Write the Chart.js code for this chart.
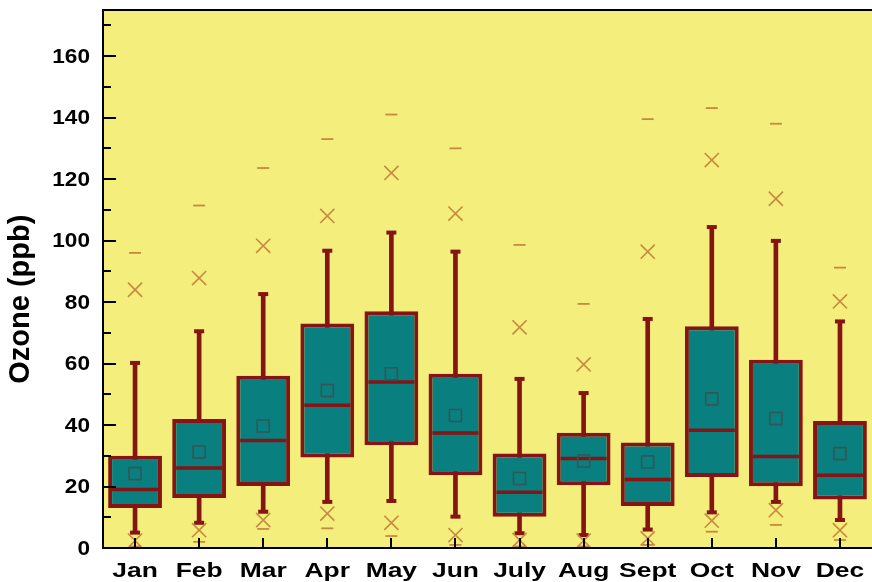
<!DOCTYPE html>
<html>
<head>
<meta charset="utf-8">
<title>Monthly ozone distribution</title>
<script src="https://cdn.jsdelivr.net/npm/chart.js@4.4.1/dist/chart.umd.min.js"></script>
<style>
  html, body { margin: 0; padding: 0; background: #ffffff; overflow: hidden; }
  #wrap { width: 872px; height: 582px; }
</style>
</head>
<body>
<div id="wrap"><canvas id="chart" width="872" height="582"></canvas></div>
<script>
// Monthly ozone statistics (ppb)
const months      = ['Jan', 'Feb', 'Mar', 'Apr', 'May', 'Jun', 'July', 'Aug', 'Sept', 'Oct', 'Nov', 'Dec'];
const minVals     = [0.5, 2.0, 6.2, 6.4, 3.9, 1.0, 0.5, 0.5, 1.0, 5.3, 7.5, 2.6];
const p1Vals      = [2.4, 5.8, 9.1, 11.2, 8.2, 4.2, 2.6, 2.4, 3.1, 8.9, 12.3, 5.8];
const whiskerLow  = [5.0, 8.2, 11.8, 15.0, 15.3, 10.2, 4.8, 4.2, 6.0, 11.6, 15.0, 9.1];
const q1Vals      = [13.0, 16.3, 20.2, 29.4, 33.4, 23.7, 10.2, 20.4, 13.7, 23.1, 20.1, 15.8];
const medianVals  = [19.0, 26.0, 35.0, 46.4, 54.0, 37.4, 18.1, 29.1, 22.3, 38.3, 29.8, 23.7];
const meanVals    = [24.2, 31.2, 39.7, 51.2, 56.7, 43.1, 22.6, 28.3, 28.0, 48.5, 42.1, 30.7];
const q3Vals      = [30.0, 42.0, 56.0, 73.0, 77.0, 56.7, 30.7, 37.5, 34.3, 72.1, 61.2, 41.3];
const whiskerHigh = [60.2, 70.5, 82.6, 96.7, 102.6, 96.4, 55.0, 50.4, 74.5, 104.4, 99.9, 73.7];
const p99Vals     = [84.0, 87.8, 98.3, 108.0, 122.0, 108.8, 71.8, 59.7, 96.4, 126.2, 113.6, 80.2];
const maxVals     = [96.0, 111.4, 123.6, 133.0, 141.0, 130.0, 98.6, 79.4, 139.5, 143.1, 138.0, 91.2];
const yTickLabels = [0, 20, 40, 60, 80, 100, 120, 140, 160];

const PLOT_BG   = '#F4EE7C';
const BOX_FILL  = '#0A7F7F';
const BOX_EDGE  = '#861414';
const MARK_TAN  = '#C7893E';
const MEAN_EDGE = '#365656';
const FONT_FAMILY = '"Liberation Sans", Arial, Helvetica, sans-serif';

// Scatter-style marker row on the category axis
function markRow(data, style, radius, width, color, order) {
  return {
    type: 'line',
    data: data,
    showLine: false,
    pointStyle: style,
    pointRadius: radius,
    pointHoverRadius: radius,
    pointBorderWidth: width,
    pointHoverBorderWidth: width,
    pointBorderColor: color,
    pointBackgroundColor: 'rgba(0,0,0,0)',
    clip: false,
    order: order
  };
}

// Drop the extra edge padding Chart.js reserves for tick labels
function fixedSize(prop, value) {
  return scale => {
    scale[prop] = value;
    scale.paddingTop = 0;
    scale.paddingBottom = 0;
    scale.paddingLeft = 0;
    scale.paddingRight = 0;
  };
}

// Plot background, frame top edge, inward tick marks and wide bold tick labels
const framePlugin = {
  id: 'frame',
  beforeDraw(chart) {
    const { ctx, chartArea: a } = chart;
    ctx.save();
    ctx.fillStyle = PLOT_BG;
    ctx.fillRect(a.left, a.top, a.right - a.left, a.bottom - a.top);
    ctx.restore();
  },
  afterDraw(chart) {
    const { ctx, chartArea: a, scales } = chart;
    ctx.save();
    ctx.strokeStyle = '#000000';
    ctx.lineWidth = 2;
    ctx.beginPath();
    ctx.moveTo(a.left - 1, a.top);
    ctx.lineTo(a.right + 1, a.top);
    // y ticks pointing into the plot: long on labelled values, short between
    scales.y.ticks.forEach(t => {
      if (t.value % 10 !== 0 || t.value <= 0) return;
      const y = Math.round(scales.y.getPixelForValue(t.value));
      const len = t.value % 20 === 0 ? 13 : 8;
      ctx.moveTo(a.left, y);
      ctx.lineTo(a.left + len, y);
    });
    // x ticks pointing up at each month
    scales.x.ticks.forEach((t, i) => {
      const x = Math.round(scales.x.getPixelForTick(i));
      ctx.moveTo(x, a.bottom);
      ctx.lineTo(x, a.bottom - 10);
    });
    ctx.stroke();

    ctx.fillStyle = '#000000';
    ctx.font = 'bold 20px ' + FONT_FAMILY;
    // y tick labels, right aligned beside the axis
    ctx.textAlign = 'right';
    ctx.textBaseline = 'middle';
    scales.y.ticks.forEach(t => {
      if (!yTickLabels.includes(t.value)) return;
      const y = scales.y.getPixelForValue(t.value);
      ctx.save();
      ctx.translate(a.left - 13, y + 1);
      ctx.scale(1.13, 1);
      ctx.fillText(String(t.value), 0, 0);
      ctx.restore();
    });
    // month labels under the axis
    ctx.textAlign = 'center';
    ctx.textBaseline = 'alphabetic';
    scales.x.ticks.forEach((t, i) => {
      const x = scales.x.getPixelForTick(i);
      ctx.save();
      ctx.translate(x, a.bottom + 29);
      ctx.scale(1.32, 1);
      ctx.fillText(months[i], 0, 0);
      ctx.restore();
    });
    ctx.restore();
  }
};

const ctx = document.getElementById('chart').getContext('2d');
new Chart(ctx, {
  type: 'bar',
  data: {
    labels: months,
    datasets: [
      // whisker stems
      {
        type: 'bar',
        data: months.map((m, i) => [whiskerLow[i], whiskerHigh[i]]),
        backgroundColor: BOX_EDGE,
        borderWidth: 0,
        barThickness: 4,
        grouped: false,
        order: 7
      },
      // interquartile boxes
      {
        type: 'bar',
        data: months.map((m, i) => [q1Vals[i], q3Vals[i]]),
        backgroundColor: BOX_FILL,
        borderColor: BOX_EDGE,
        borderWidth: 4,
        borderSkipped: false,
        barPercentage: 0.84,
        categoryPercentage: 1,
        grouped: false,
        order: 6
      },
      markRow(medianVals, 'line', 23, 3.5, BOX_EDGE, 5),
      markRow(meanVals, 'rect', 8.5, 1.6, MEAN_EDGE, 4),
      markRow(whiskerLow, 'line', 5, 4, BOX_EDGE, 3),
      markRow(whiskerHigh, 'line', 5, 4, BOX_EDGE, 3),
      markRow(p1Vals, 'crossRot', 10, 1.6, MARK_TAN, 2),
      markRow(p99Vals, 'crossRot', 10, 1.6, MARK_TAN, 2),
      markRow(minVals, 'line', 6, 1.8, MARK_TAN, 1),
      markRow(maxVals, 'line', 6, 1.8, MARK_TAN, 1)
    ]
  },
  options: {
    responsive: false,
    devicePixelRatio: 1,
    animation: false,
    events: [],
    layout: { autoPadding: false, padding: { top: 10, right: 0, bottom: 0, left: 0 } },
    plugins: {
      legend: { display: false },
      tooltip: { enabled: false }
    },
    scales: {
      x: {
        type: 'category',
        offset: true,
        grid: { display: false, drawTicks: false },
        border: { display: true, color: '#000000', width: 2, z: 1 },
        ticks: { display: false, autoSkip: false, maxRotation: 0 },
        afterFit: fixedSize('height', 34)
      },
      y: {
        min: 0,
        max: 175,
        grid: { display: false, drawTicks: false },
        border: { display: true, color: '#000000', width: 2, z: 1 },
        ticks: { display: false, stepSize: 10 },
        title: {
          display: true,
          text: 'Ozone (ppb)     ',
          color: '#000000',
          padding: { top: 4, bottom: 0 },
          font: { family: FONT_FAMILY, size: 29, weight: 'bold' }
        },
        afterFit: fixedSize('width', 103)
      }
    }
  },
  plugins: [framePlugin]
});
</script>
</body>
</html>
